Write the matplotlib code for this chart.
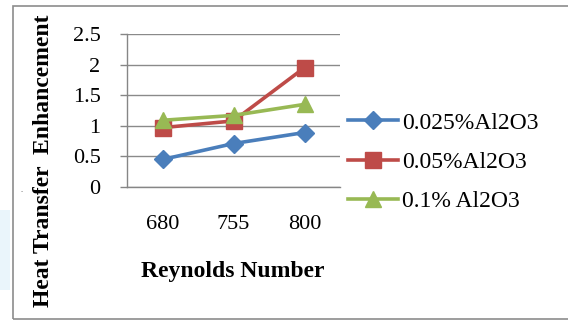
import matplotlib
matplotlib.use("Agg")
import matplotlib.pyplot as plt
from matplotlib.patches import Rectangle

# Data
reynolds = ["680", "755", "800"]
conc_0025 = [0.45, 0.71, 0.89]
conc_005 = [0.97, 1.08, 1.95]
conc_01 = [1.09, 1.17, 1.35]
series_labels = ["0.025%Al2O3", "0.05%Al2O3", "0.1% Al2O3"]
y_ticks = [0, 0.5, 1, 1.5, 2, 2.5]
y_tick_labels = ["0", "0.5", "1", "1.5", "2", "2.5"]

plt.rcParams["font.family"] = ["Liberation Serif", "DejaVu Serif"]

W, H = 568, 320
fig = plt.figure(figsize=(W / 100, H / 100), dpi=100)
fig.patch.set_facecolor("white")

# faint page tint and the chart frame (runs off the right edge)
fig.patches.append(Rectangle((0, 1 - 290 / H), 10 / W, 80 / H,
                             transform=fig.transFigure, facecolor="#eaf5fb",
                             edgecolor="none", zorder=0))
fig.patches.append(Rectangle((12.5 / W, 1 - 319 / H), 600 / W, 313 / H,
                             transform=fig.transFigure, facecolor="none",
                             edgecolor="#8c8c8c", lw=1.2, zorder=1))

ax = fig.add_axes([127 / W, 1 - 187 / H, 213 / W, 153 / H])
ax.set_facecolor("none")

x = range(len(reynolds))
colors = ["#4A7EBB", "#BE4B48", "#98B954"]
markers = ["D", "s", "^"]
sizes = [9, 11, 11]
handles = []
for vals, c, m, s, lab in zip([conc_0025, conc_005, conc_01], colors, markers, sizes, series_labels):
    h, = ax.plot(x, vals, color=c, lw=2.6, marker=m, markersize=s,
                 markerfacecolor=c, markeredgecolor=c, label=lab, zorder=3)
    handles.append(h)

ax.set_xlim(-0.5, 2.5)
ax.set_ylim(0, 2.5)
ax.set_xticks(list(x))
ax.set_xticklabels(reynolds, fontsize=16)
ax.set_yticks(y_ticks)
ax.set_yticklabels(y_tick_labels, fontsize=16)
ax.tick_params(axis="x", length=0, pad=20)
ax.tick_params(axis="y", length=5, width=1, color="#868686", pad=14)
ax.grid(axis="y", color="#8a8a8a", lw=1.0)
ax.set_axisbelow(True)
for side in ["top", "right"]:
    ax.spines[side].set_visible(False)
for side in ["left", "bottom"]:
    ax.spines[side].set_color("#868686")
    ax.spines[side].set_linewidth(1.0)

fig.text(44 / W, 1 - 161 / H, "Heat Transfer  Enhancement", rotation=90,
         ha="center", va="center", fontsize=17, fontweight="bold")
fig.text(233 / W, 1 - 272 / H, "Reynolds Number", ha="center", va="center",
         fontsize=17, fontweight="bold")
fig.text(22 / W, 1 - 190 / H, ".", ha="center", va="center", fontsize=6, color="#555555")

fig.legend(handles=handles, loc="center left", bbox_to_anchor=(348 / W, 1 - 162 / H),
           frameon=False, fontsize=17, handlelength=2.1, handletextpad=0.2,
           labelspacing=0.75, borderaxespad=0, borderpad=0)

fig.savefig("out.png", dpi=100)
